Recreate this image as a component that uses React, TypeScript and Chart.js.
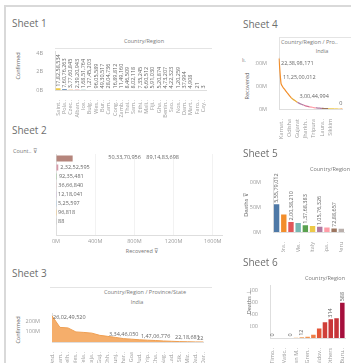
import React, { useEffect, useRef } from 'react';
import { Chart, registerables } from 'chart.js';
Chart.register(...registerables);

const FONT = '"Open Sans", "Noto Sans", Arial, sans-serif';
const TICK = '#9b9b9b';
const LABEL = '#666666';
const LINE = '#dedede';

// ---------- Sheet 1 ----------
const s1Countries = ['Saint..', 'Pola..', 'Czec..', 'Alban..', 'Ice..', 'Bulg..', 'Wes..', 'Bur..', 'Cam..', 'Cong..', 'Zamb..', 'Thai..', 'Sam..', 'Ethi..', 'Mali..', 'Fiji..', 'Gha..', 'Benin..', 'Sao..', 'Nos..', 'Dam..', 'Mart..', 'Faro..', 'Cay..'];
const s1Confirmed = [178258534, 76076263, 37760845, 23920943, 16851764, 12745203, 9605589, 4930517, 2804736, 1689812, 1149160, 846509, 802118, 735245, 660512, 591030, 520874, 473207, 422323, 120259, 37994, 4908, 21, 3];
const s1YTicks = [0, 2e9, 4e9];

// ---------- Sheet 2 ----------
const s2Rows = ['r0', 'r1', 'r2', 'r3', 'r4', 'r5', 'r6', 'r7', ''];
const s2Count = [170000000, 23252595, 9235481, 3666840, 1218041, 525597, 96818, 88, null];
const s2TopValues = [503370956, 891483698];
const s2XTicks = [0, 4e8, 8e8, 12e8, 16e8];

// ---------- Sheet 3 ----------
const s3States = ['And..', 'Tam..', 'Delh..', 'Wes..', 'Tela..', 'Raja..', 'Guj..', 'Chh..', 'Punj..', 'Jhar..', 'Goa', 'Pud..', 'Trip..', 'Cha..', 'Nag..', 'Lad..', 'Sik..', 'Miz..', 'Dad..', 'Dar..'];
const s3Confirmed = [260249520, 145000000, 140000000, 100000000, 95000000, 88000000, 66000000, 56000000, 45000000, 33446050, 28000000, 22000000, 18000000, 14706776, 10000000, 7000000, 4000000, 2218681, 600000, 22];
const s3Labeled = [0, 9, 13, 17, 19];
const s3YTicks = [1e8, 2e8];

// ---------- Sheet 4 ----------
const s4States = ['Mahar..', 'Karnat..', 'Kerala', 'Tamil..', 'Andhr..', 'Odisha', 'Delhi', 'Uttar..', 'West..', 'Gujarat', 'Rajas..', 'Chhat..', 'Harya..', 'Jharkh..', 'Bihar', 'Telan..', 'Punjab', 'Tripura', 'Assam', 'Jammu..', 'Uttara..', 'Laura..', 'Goa', 'Himac..', 'Pudu..', 'Sikkim', 'Manip..', 'Megha..', 'Nagal..', 'Chand..', 'Ladakh', 'Mizo..'];
const s4Recovered = [223898171, 112500012, 95000000, 84000000, 72000000, 60000000, 50000000, 42000000, 36000000, 30044994, 25000000, 21000000, 17500000, 14000000, 11500000, 9500000, 8000000, 6500000, 5300000, 4300000, 3500000, 2800000, 2200000, 1700000, 1300000, 1000000, 700000, 450000, 250000, 100000, 30000, 0];
const s4Labeled = [0, 1, 9, 31];
const s4YTicks = [0, 1e8, 2e8];
const s4Shown = [1, 5, 9, 13, 17, 21, 25];

// ---------- Sheet 5 ----------
const s5Countries = ['US', 'Bra..', 'Ind..', 'Me..', 'Rus..', 'Italy', 'UK', 'Spa..', 'Fra..', 'Peru'];
const s5Deaths = [55579012, 35000000, 20038210, 18000000, 13768383, 12000000, 10576326, 9000000, 7288657, 6500000];
const s5Labeled = [0, 2, 4, 6, 8];
const s5YTicks = [0, 5e7, 1e8];

// ---------- Sheet 6 ----------
const s6Countries = ['Timo..', 'Tanz..', 'Vatic..', 'Holy..', 'San M..', 'Palau', 'Gren..', 'Saint..', 'Moldov..', 'Domin..', 'Others', 'Bhut..', 'Buru..'];
const s6Deaths = [0, 0, 0, 0, 3, 12, 20, 55, 160, 265, 314, 330, 588];
const s6Labeled = [0, 3, 5, 10, 12];
const s6YTicks = [200, 400, 600, 800];

const PAL = ['#edc948', '#4e79a7', '#f28e2b', '#e15759', '#76b7b2', '#59a14f', '#b07aa1', '#ff9da7', '#9c755f', '#bab0ac'];
const S5PAL = ['#4e79a7', '#f28e2b', '#e15759', '#76b7b2', '#59a14f', '#edc948', '#b07aa1', '#ff9da7', '#9c755f', '#bab0ac'];
const S4PAL = ['#f28e2b', '#f28e2b', '#e8a838', '#b07aa1', '#d37295', '#ff9da7', '#b07aa1', '#9c755f', '#edc948', '#f1ce63'];

const fmt = (v: number) => Math.round(v).toLocaleString('en-IN');
const tickFont = { size: 5.5, family: FONT };
const fixW = (w: number) => (s: any) => { s.width = w; };
const fixH = (h: number) => (s: any) => { s.height = h; };
const setTicks = (vals: number[]) => (s: any) => { s.ticks = vals.map((v) => ({ value: v })); };

const base = (pad: any) => ({
  responsive: false,
  animation: false,
  devicePixelRatio: 1,
  events: [],
  layout: { padding: pad },
  plugins: { legend: { display: false }, tooltip: { enabled: false } },
});

const vLabels = (indices: number[], values: number[]) => ({
  id: 'vl',
  afterDatasetsDraw(chart: any) {
    const meta = chart.getDatasetMeta(0);
    const ctx = chart.ctx;
    ctx.save();
    ctx.font = `5.5px ${FONT}`;
    ctx.fillStyle = LABEL;
    ctx.textAlign = 'left';
    ctx.textBaseline = 'middle';
    indices.forEach((i) => {
      const el = meta.data[i];
      if (!el) return;
      ctx.save();
      ctx.translate(el.x, el.y - 1.5);
      ctx.rotate(-Math.PI / 2);
      ctx.fillText(fmt(values[i]), 0, 0);
      ctx.restore();
    });
    ctx.restore();
  },
});

const pointLabels = (indices: number[], values: number[], align: string, dy: number, minTop: number) => ({
  id: 'pl',
  afterDatasetsDraw(chart: any) {
    const meta = chart.getDatasetMeta(0);
    const ctx = chart.ctx;
    const { left, right, top } = chart.chartArea;
    ctx.save();
    ctx.font = `5.5px ${FONT}`;
    ctx.fillStyle = LABEL;
    ctx.textAlign = 'left';
    ctx.textBaseline = 'middle';
    indices.forEach((i) => {
      const el = meta.data[i];
      const t = fmt(values[i]);
      const w = ctx.measureText(t).width;
      let x = align === 'left' ? el.x + 2 : el.x - w / 2;
      x = Math.max(left + 1, Math.min(x, right - w));
      const y = Math.max(el.y + dy, top + minTop);
      ctx.fillText(t, x, y);
    });
    ctx.restore();
  },
});

const s2Labels = {
  id: 's2l',
  afterDatasetsDraw(chart: any) {
    const meta = chart.getDatasetMeta(0);
    const xs = chart.scales.x;
    const ctx = chart.ctx;
    ctx.save();
    ctx.font = `5.5px ${FONT}`;
    ctx.fillStyle = LABEL;
    ctx.textAlign = 'left';
    ctx.textBaseline = 'middle';
    s2Count.forEach((v, i) => {
      if (v == null || i === 0) return;
      const el = meta.data[i];
      ctx.fillText(fmt(v), el.x + 2, el.y);
    });
    const y0 = meta.data[0].y - 1;
    s2TopValues.forEach((v) => {
      ctx.fillText(fmt(v), xs.getPixelForValue(v) + 3, y0);
    });
    ctx.restore();
  },
};

function s6Color(v: number) {
  const t = Math.sqrt(v / 588);
  const c0 = [247, 185, 100], c1 = [230, 88, 55], c2 = [165, 15, 60];
  const mix = (a: number[], b: number[], u: number) => a.map((x, k) => Math.round(x + (b[k] - x) * u));
  const c = t < 0.5 ? mix(c0, c1, t * 2) : mix(c1, c2, (t - 0.5) * 2);
  return `rgb(${c[0]},${c[1]},${c[2]})`;
}

const xRot = (h: number, cb?: any) => ({
  afterFit: fixH(h),
  grid: { display: false },
  border: { color: LINE },
  ticks: { font: tickFont, color: TICK, minRotation: 90, maxRotation: 90, autoSkip: false, padding: 2, ...(cb ? { callback: cb } : {}) },
});

const yLin = (max: number, w: number, vals: number[], cb: any) => ({
  min: 0,
  max,
  afterFit: fixW(w),
  afterBuildTicks: setTicks(vals),
  grid: { display: false },
  border: { color: LINE },
  ticks: { font: tickFont, color: TICK, padding: 4, autoSkip: false, callback: cb },
});

const configs: Record<string, () => any> = {
  s1: () => ({
    type: 'bar',
    data: { labels: s1Countries, datasets: [{ data: s1Confirmed, backgroundColor: s1Confirmed.map((_, i) => PAL[i % PAL.length]), barPercentage: 0.75, categoryPercentage: 1 }] },
    options: {
      ...base({ top: 6, right: 2.5, left: 0, bottom: 0 }),
      scales: {
        x: xRot(30),
        y: yLin(4.2e9, 27, s1YTicks, (v: number) => v / 1e9 + 'B'),
      },
    },
    plugins: [vLabels(s1Confirmed.map((_, i) => i), s1Confirmed)],
  }),
  s2: () => ({
    type: 'bar',
    data: { labels: s2Rows, datasets: [{ data: s2Count, backgroundColor: ['#b5857c', '#d79aa9', '#8fc08a', '#e6a1a1', '#c9b2d6', '#a8c6e0', '#f0c987', '#c7c7c7', '#ccc'], barPercentage: 0.65, categoryPercentage: 1 }] },
    options: {
      ...base({ top: 6, right: 2.4, left: 0, bottom: 0 }),
      indexAxis: 'y',
      scales: {
        x: { min: 0, max: 1.7e9, afterFit: fixH(13), afterBuildTicks: setTicks(s2XTicks), grid: { color: '#f2f2f2', drawTicks: false }, border: { color: LINE }, ticks: { font: tickFont, color: TICK, padding: 3, maxRotation: 0, autoSkip: false, callback: (v: number) => v / 1e6 + 'M' } },
        y: { afterFit: fixW(31), grid: { display: false }, border: { color: LINE }, ticks: { display: false } },
      },
    },
    plugins: [s2Labels],
  }),
  s3: () => ({
    type: 'line',
    data: { labels: s3States, datasets: [{ data: s3Confirmed, fill: 'origin', backgroundColor: '#f5ae6b', borderColor: '#ef9f52', borderWidth: 1, pointRadius: 0, tension: 0 }] },
    options: {
      ...base({ top: 6, right: 8, left: 0, bottom: 0 }),
      scales: {
        x: { ...xRot(21), offset: false },
        y: yLin(285e6, 30, s3YTicks, (v: number) => v / 1e6 + 'M'),
      },
    },
    plugins: [pointLabels(s3Labeled, s3Confirmed, 'center', -4, 4)],
  }),
  s4: () => ({
    type: 'line',
    data: { labels: s4States, datasets: [{ data: s4Recovered, borderWidth: 1.2, pointRadius: 0, tension: 0.2, borderColor: '#f28e2b', segment: { borderColor: (c: any) => S4PAL[Math.floor(c.p0DataIndex / 3) % S4PAL.length] } }] },
    options: {
      ...base({ top: 4, right: 3, left: 0, bottom: 0 }),
      scales: {
        x: { ...xRot(41, (_v: any, i: number) => (s4Shown.includes(i) ? s4States[i] : '')), offset: false },
        y: yLin(229e6, 24, s4YTicks, (v: number) => v / 1e6 + 'M'),
      },
    },
    plugins: [pointLabels(s4Labeled, s4Recovered, 'left', -6, 6)],
  }),
  s5: () => ({
    type: 'bar',
    data: { labels: s5Countries, datasets: [{ data: s5Deaths, backgroundColor: S5PAL, barPercentage: 0.75, categoryPercentage: 1 }] },
    options: {
      ...base({ top: 6, right: 2, left: 0, bottom: 0 }),
      scales: {
        x: xRot(20, (_v: any, i: number) => (i % 2 === 1 ? s5Countries[i] : '')),
        y: yLin(110e6, 23, s5YTicks, (v: number) => v / 1e6 + 'M'),
      },
    },
    plugins: [vLabels(s5Labeled, s5Deaths)],
  }),
  s6: () => ({
    type: 'bar',
    data: { labels: s6Countries, datasets: [{ data: s6Deaths, backgroundColor: s6Deaths.map(s6Color), barPercentage: 0.78, categoryPercentage: 1 }] },
    options: {
      ...base({ top: 5, right: 2, left: 0, bottom: 0 }),
      scales: {
        x: xRot(25, (_v: any, i: number) => (i % 2 === 0 ? s6Countries[i] : '')),
        y: yLin(880, 20, s6YTicks, (v: number) => String(v)),
      },
    },
    plugins: [vLabels(s6Labeled, s6Deaths)],
  }),
};

type Box = { left: number; top: number; width: number; height: number };

function ChartBox({ box, cfg }: { box: Box; cfg: string }) {
  const ref = useRef<HTMLCanvasElement>(null);
  useEffect(() => {
    const c = new Chart(ref.current as HTMLCanvasElement, configs[cfg]());
    return () => c.destroy();
  }, []);
  return (
    <canvas
      ref={ref}
      width={box.width}
      height={box.height}
      style={{ position: 'absolute', left: box.left, top: box.top, width: box.width, height: box.height }}
    />
  );
}

function T({ x, y, s = 5.5, c = '#7a7a7a', a = 'c', r = false, children }: any) {
  const tx = a === 'c' ? '-50%' : '0';
  return (
    <div
      style={{
        position: 'absolute', left: x, top: y, fontSize: s, color: c, fontFamily: FONT, lineHeight: 1,
        whiteSpace: 'nowrap', transform: `translate(${tx}, -50%)${r ? ' rotate(-90deg)' : ''}`,
      }}
    >
      {children}
    </div>
  );
}

function L({ x, y, w, h, c = '#e4e4e4' }: any) {
  return <div style={{ position: 'absolute', left: x, top: y, width: w, height: h, background: c }} />;
}

export default function App() {
  const title = (t: string, x: number, y: number) => <T x={x} y={y} s={10} c="#6e6e6e" a="l">{t}</T>;
  return (
    <div style={{ position: 'absolute', left: 0, top: 0, width: 351, height: 363, overflow: 'hidden', background: '#fff' }}>
      <L x={4} y={5} w={347} h={2} c="#d9d9d9" />
      <L x={4} y={5} w={2} h={358} c="#d9d9d9" />

      {/* Sheet 1 */}
      {title('Sheet 1', 12, 23)}
      <T x={144} y={42}>Country/Region</T>
      <T x={19} y={66} c="#666" r>Confirmed</T>
      <L x={55} y={48} w={157} h={1} />
      <ChartBox box={{ left: 28, top: 44, width: 184, height: 76 }} cfg="s1" />

      {/* Sheet 4 */}
      {title('Sheet 4', 243, 24)}
      <L x={279} y={37} w={72} h={1} />
      <L x={279} y={37} w={1} h={20} />
      <T x={281} y={43} a="l">Country/Region / Pro..</T>
      <T x={322} y={52}>India</T>
      <T x={244} y={60} s={5} c="#777">lı.</T>
      <T x={248} y={86} c="#666" r>Recovered</T>
      <ChartBox box={{ left: 255, top: 50, width: 96, height: 100 }} cfg="s4" />

      {/* Sheet 2 */}
      {title('Sheet 2', 12, 130)}
      <T x={13} y={152} a="l" c="#777">Count.. ⊽</T>
      <T x={142} y={252} c="#777">Recovered ⊽</T>
      <ChartBox box={{ left: 25, top: 148, width: 200, height: 100 }} cfg="s2" />

      {/* Sheet 5 */}
      {title('Sheet 5', 243, 153)}
      <T x={330} y={170}>Country/Region</T>
      <T x={247} y={205} c="#666" r>Deaths ⊽</T>
      <ChartBox box={{ left: 250, top: 170, width: 100, height: 82 }} cfg="s5" />

      {/* Sheet 3 */}
      {title('Sheet 3', 12, 273)}
      <L x={50} y={287} w={162} h={1} />
      <T x={145} y={293}>Country/Region / Province/State</T>
      <T x={137} y={303}>India</T>
      <T x={19} y={330} c="#666" r>Confirmed</T>
      <ChartBox box={{ left: 22, top: 306, width: 190, height: 57 }} cfg="s3" />

      {/* Sheet 6 */}
      {title('Sheet 6', 243, 262)}
      <T x={325} y={279}>Country/Region</T>
      <T x={250} y={302} c="#666" r>Deaths ⊥</T>
      <ChartBox box={{ left: 250, top: 278, width: 101, height: 85 }} cfg="s6" />
    </div>
  );
}
